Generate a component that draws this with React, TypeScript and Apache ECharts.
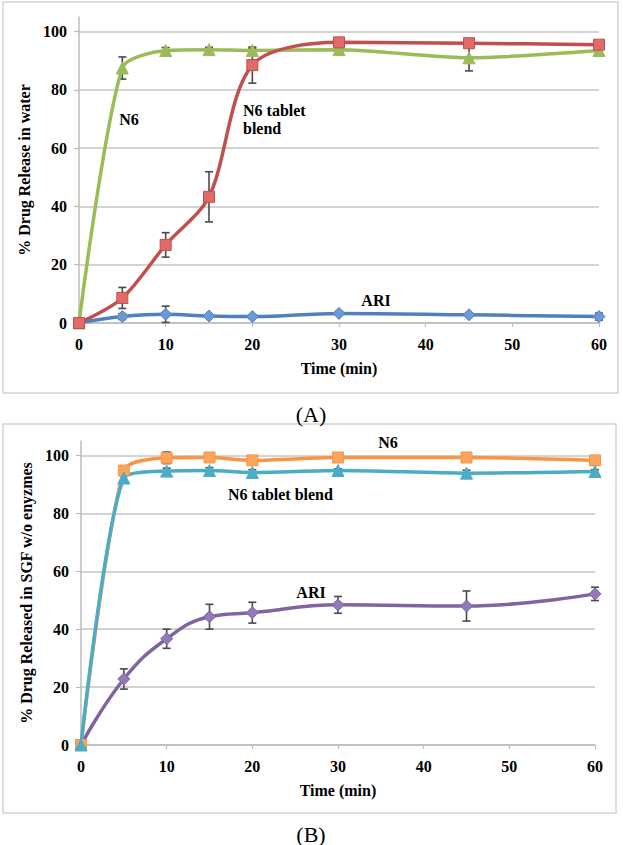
import React, { useEffect, useRef } from 'react';
import * as echarts from 'echarts';

const timeMin = [0, 5, 10, 15, 20, 30, 45, 60];

// (A) release in water
const waterN6 = [0, 87.5, 93.5, 93.8, 93.5, 93.8, 91, 93.5];
const waterN6Err = [0, 3.8, 1, 0.8, 0.8, 0.8, 4.5, 0.8];
const waterBlend = [0, 8.6, 26.8, 43.3, 88.5, 96.3, 96, 95.5];
const waterBlendErr = [0, 3.6, 4.2, 8.6, 6.2, 0.8, 0.8, 0.8];
const waterARI = [0, 2.2, 3, 2.4, 2.2, 3.3, 2.8, 2.2];
const waterARIErr = [0, 1, 2.8, 0.6, 0.6, 0.6, 0.6, 1.2];

// (B) release in SGF w/o enzymes
const sgfN6 = [0, 94.8, 99.2, 99.3, 98.3, 99.3, 99.3, 98.3];
const sgfN6Err = [0, 0.5, 2, 0.5, 0.5, 0.5, 0.5, 0.8];
const sgfBlend = [0, 92.2, 94.6, 94.8, 94.1, 94.8, 93.9, 94.5];
const sgfBlendErr = [0, 1, 1, 1, 1, 0.6, 1, 0.6];
const sgfARI = [0, 22.8, 36.7, 44.3, 45.7, 48.4, 48, 52.2];
const sgfARIErr = [0, 3.5, 3.3, 4.3, 3.6, 2.9, 5.2, 2.3];

const yLabelsShown = [0, 20, 40, 60, 80, 100];

const FONT = '"Liberation Serif", "Times New Roman", serif';

function pairs(vals: number[]) {
  return timeMin.map((t, i) => [t, vals[i]]);
}

function errSeries(idx: number, vals: number[], errs: number[], color: string) {
  return {
    type: 'custom',
    xAxisIndex: idx,
    yAxisIndex: idx,
    silent: true,
    data: timeMin
      .map((t, i) => [t, vals[i] - errs[i], vals[i] + errs[i], errs[i]])
      .filter((d) => d[3] > 0),
    encode: { x: 0, y: [1, 2] },
    renderItem: (params: any, api: any) => {
      const x = api.value(0);
      const lo = api.coord([x, api.value(1)]);
      const hi = api.coord([x, api.value(2)]);
      const w = 4;
      const st = { stroke: color, lineWidth: 1.6 };
      return {
        type: 'group',
        children: [
          { type: 'line', shape: { x1: lo[0], y1: lo[1], x2: hi[0], y2: hi[1] }, style: st },
          { type: 'line', shape: { x1: lo[0] - w, y1: lo[1], x2: lo[0] + w, y2: lo[1] }, style: st },
          { type: 'line', shape: { x1: hi[0] - w, y1: hi[1], x2: hi[0] + w, y2: hi[1] }, style: st },
        ],
      };
    },
  };
}

function lineSeries(idx: number, name: string, vals: number[], color: string, fill: string, symbol: string, size: number, smooth: number) {
  return {
    type: 'line',
    name,
    xAxisIndex: idx,
    yAxisIndex: idx,
    data: pairs(vals),
    smooth,
    symbol,
    symbolSize: size,
    lineStyle: { color, width: 3.5 },
    itemStyle: { color: fill, borderColor: color, borderWidth: 1 },
  };
}

function xAxis(idx: number) {
  return {
    type: 'value',
    gridIndex: idx,
    min: 0,
    max: 60,
    interval: 10,
    axisLine: { show: true, lineStyle: { color: '#BDBDBD', width: 1.5 } },
    axisTick: { show: true, length: 4, lineStyle: { color: '#BDBDBD', width: 1.2 } },
    axisLabel: { margin: 13, fontFamily: FONT, fontWeight: 'bold', fontSize: 16, color: '#000' },
    splitLine: { show: false },
    name: 'Time (min)',
    nameLocation: 'middle',
    nameGap: 45,
    nameTextStyle: { fontFamily: FONT, fontWeight: 'bold', fontSize: 16, color: '#000', verticalAlign: 'middle' },
  };
}

function yAxis(idx: number, name: string, gap: number) {
  return {
    type: 'value',
    gridIndex: idx,
    min: 0,
    max: 105,
    interval: 20,
    axisLine: { show: true, lineStyle: { color: '#BDBDBD', width: 1.5 } },
    axisTick: { show: true, length: 5, lineStyle: { color: '#BDBDBD', width: 1.2 } },
    axisLabel: {
      margin: 12,
      showMaxLabel: false,
      fontFamily: FONT,
      fontWeight: 'bold',
      fontSize: 16,
      color: '#000',
      formatter: (v: number) => (yLabelsShown.indexOf(v) >= 0 ? String(v) : ''),
    },
    splitLine: { show: true, showMaxLine: false, lineStyle: { color: '#C4C4C4', width: 1.5 } },
    name,
    nameLocation: 'middle',
    nameRotate: 90,
    nameGap: gap,
    nameTextStyle: { fontFamily: FONT, fontWeight: 'bold', fontSize: 16, color: '#000', verticalAlign: 'middle' },
  };
}

function txt(x: number, y: number, text: string, opts: any = {}) {
  return {
    type: 'text',
    x,
    y,
    silent: true,
    style: {
      text,
      font: `bold 16px ${FONT}`,
      fill: '#000',
      align: 'center',
      verticalAlign: 'middle',
      ...opts,
    },
  };
}

export default function App() {
  const ref = useRef<HTMLDivElement>(null);
  useEffect(() => {
    if (!ref.current) return;
    const chart = echarts.init(ref.current, undefined, { renderer: 'svg' });
    chart.setOption({
      animation: false,
      backgroundColor: '#fff',
      grid: [
        { left: 79, right: 24, top: 17, height: 306 },
        { left: 81, right: 28, top: 441, height: 304 },
      ],
      xAxis: [xAxis(0), xAxis(1)],
      yAxis: [
        yAxis(0, '% Drug Release in water', 51),
        yAxis(1, '% Drug Released in SGF w/o enyzmes', 53),
      ],
      series: [
        errSeries(0, waterARI, waterARIErr, '#4a4a4a'),
        errSeries(0, waterN6, waterN6Err, '#4a4a4a'),
        errSeries(0, waterBlend, waterBlendErr, '#4a4a4a'),
        lineSeries(0, 'ARI', waterARI, '#4F81BD', '#6C9AD6', 'diamond', 12, 0.4),
        lineSeries(0, 'N6', waterN6, '#9BBB59', '#9BBB59', 'triangle', 12, 0.25),
        lineSeries(0, 'N6 tablet blend', waterBlend, '#C0504D', '#E06B68', 'rect', 11, 0.3),
        errSeries(1, sgfARI, sgfARIErr, '#4a4a4a'),
        errSeries(1, sgfN6, sgfN6Err, '#4a4a4a'),
        errSeries(1, sgfBlend, sgfBlendErr, '#4a4a4a'),
        lineSeries(1, 'ARI', sgfARI, '#8064A2', '#9479B8', 'diamond', 12, 0.45),
        lineSeries(1, 'N6', sgfN6, '#F79646', '#F9A55B', 'rect', 11, 0.25),
        lineSeries(1, 'N6 tablet blend', sgfBlend, '#4BACC6', '#4BACC6', 'triangle', 12, 0.25),
      ],
      graphic: [
        { type: 'rect', silent: true, shape: { x: 3, y: 2, width: 615, height: 391 }, style: { fill: 'none', stroke: '#D4D4D4', lineWidth: 1.5 } },
        { type: 'rect', silent: true, shape: { x: 3, y: 424, width: 613, height: 389 }, style: { fill: 'none', stroke: '#D4D4D4', lineWidth: 1.5 } },
        txt(129, 119, 'N6'),
        txt(243, 101, 'N6 tablet\nblend', { align: 'left', verticalAlign: 'top', lineHeight: 18 }),
        txt(376, 300, 'ARI'),
        txt(388, 442, 'N6'),
        txt(228, 494, 'N6 tablet blend', { align: 'left' }),
        txt(311, 592, 'ARI'),
        txt(311, 414, '(A)', { font: `22px ${FONT}` }),
        txt(311, 834, '(B)', { font: `22px ${FONT}` }),
      ],
    });
    return () => chart.dispose();
  }, []);
  return (
    <div
      ref={ref}
      style={{ position: 'absolute', left: 0, top: 0, width: 623, height: 845, background: '#fff' }}
    />
  );
}
